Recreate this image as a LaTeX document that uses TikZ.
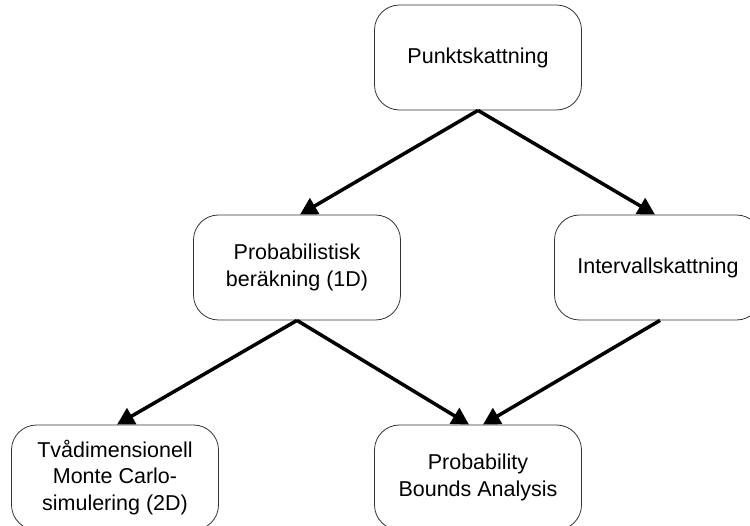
\documentclass[tikz,border=0pt]{standalone}
\usepackage{fontspec}
\setmainfont{Liberation Sans}
\usepackage{tikz}
\usetikzlibrary{shapes,arrows.meta,positioning,calc}

\begin{document}
\begin{tikzpicture}[
    node distance=210pt,
    box/.style={rectangle, draw=black!80, line width=0.8pt, rounded corners=25pt, minimum width=207pt, minimum height=105pt, align=center, font=\fontsize{21.5}{26.5}\selectfont},
    arrow/.style={-{Triangle[length=17pt,width=18pt]}, line width=3.5pt}
]
\useasboundingbox (0,0) rectangle (750pt,-526pt);

% Boxes
\node[box] (punkt) at (478pt,-57.5pt) {Punktskattning};
\node[box, below of=punkt, xshift=-181pt] (prob) {Probabilistisk\\beräkning (1D)};
\node[box, below of=punkt, xshift=180pt] (interval) {Intervallskattning};
\node[box, below of=prob, xshift=-182pt] (twod) {Tvådimensionell\\Monte Carlo-\\simulering (2D)};
\node[box, below of=prob, xshift=181pt] (pba) {Probability\\Bounds Analysis};

% Connect boxes
\draw[arrow] (punkt.south) -- ([xshift=3pt]prob.north);
\draw[arrow] (punkt.south) -- ([xshift=-3pt]interval.north);
\draw[arrow] (prob.south) -- ([xshift=2pt]twod.north);
\draw[arrow] (prob.south) -- ([xshift=-9pt]pba.north);
\draw[arrow] ([xshift=2pt]interval.south) -- ([xshift=5pt]pba.north);

\end{tikzpicture}
\end{document}
